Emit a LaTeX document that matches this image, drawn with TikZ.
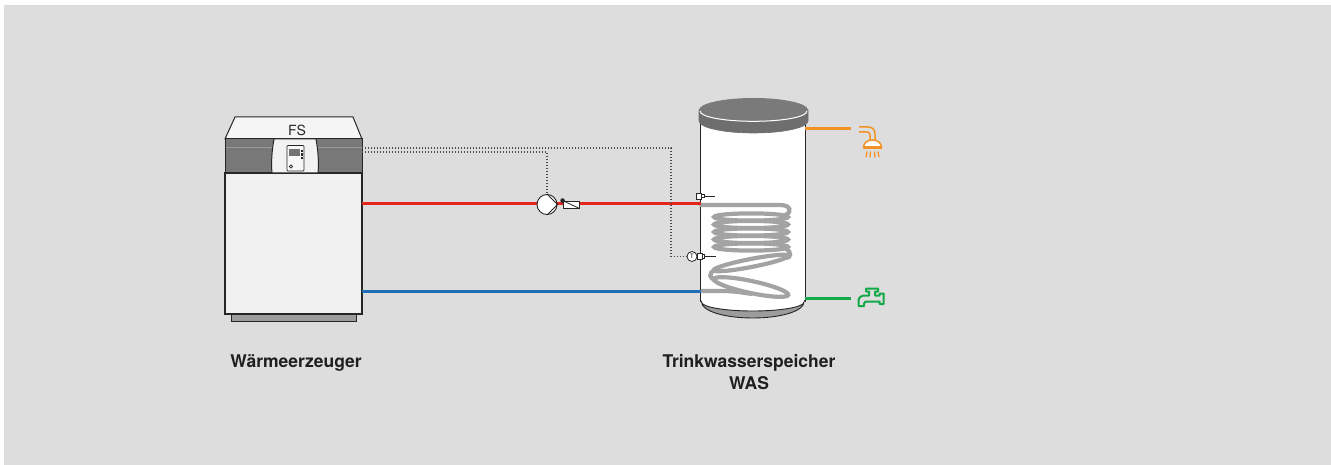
\documentclass[tikz,border=0pt]{standalone}
\usepackage{fontspec}
\setmainfont{TeX Gyre Heros}
\definecolor{bg}{HTML}{DDDDDD}
\definecolor{hotred}{HTML}{E2261C}
\definecolor{coldblue}{HTML}{1E6FB8}
\definecolor{dhworange}{HTML}{F39224}
\definecolor{dcwgreen}{HTML}{13A84A}
\definecolor{coilgray}{HTML}{A3A3A3}
\definecolor{lidgray}{HTML}{7A7A7A}
\definecolor{rimgray}{HTML}{6E6E6E}
\definecolor{bandgray}{HTML}{787878}
\definecolor{basegray}{HTML}{9C9C9C}
\definecolor{edge}{HTML}{262626}
\begin{document}
\begin{tikzpicture}[x=1pt,y=-1pt,
  pipe/.style={line width=3pt},
  ctrl/.style={draw=black!70, line width=1.1pt, dash pattern=on 1.3pt off 1.7pt},
  coil/.style={draw=coilgray, line width=4.2pt},
  outline/.style={draw=edge, line width=1pt},
  caption/.style={font=\fontsize{17.5}{21}\selectfont\bfseries, text=black!88, anchor=base, inner sep=0},
  sensorbody/.style={draw=edge, fill=white, line width=0.7pt},
]
\useasboundingbox (0,0) rectangle (1331,465);
\fill[bg] (4,5) rectangle (1331,465);

% ---------------- heat generator ----------------
\fill[black!6] (225,173) rectangle (362,314);
\draw[edge, line width=1.5pt] (225,173) rectangle (362,314);
\draw[outline, fill=basegray] (231,314) rectangle (356,321.5);
\draw[outline, fill=black!4] (235,117) -- (353,117) -- (362,139) -- (225,139) -- cycle;
\draw[outline, fill=bandgray] (225,139) rectangle (362,173);
\draw[black!40, line width=1pt] (225.5,148) -- (361.5,148);
% control panel
\draw[outline, fill=black!5] (274,139) .. controls (272,150) and (271,162) .. (272,173)
  -- (318,173) .. controls (319,162) and (318,150) .. (316,139) -- cycle;
\draw[edge, line width=0.7pt, fill=black!3, rounded corners=0.8pt] (287,145.5) rectangle (304,171);
\fill[black!55] (289,149.5) rectangle (300,156);
\fill[edge] (300.5,150) rectangle (303,152.5);
\fill[edge] (300.5,153.5) rectangle (303,156);
\fill[edge] (300.5,157) rectangle (302.5,159);
\draw[edge, line width=0.7pt] (291,166.5) circle[radius=1.6pt];
\node[font=\fontsize{14}{16}\selectfont, anchor=base, inner sep=0, text=black!85] (fs) at (297,135.5) {FS};

% ---------------- storage tank ----------------
% body with curved bottom
\fill[white] (700.5,118) -- (700.5,302)
  .. controls (700.5,307) and (724,311) .. (752.75,311)
  .. controls (781.5,311) and (805,307) .. (805,302) -- (805,118) -- cycle;
% base ring
\draw[outline, line width=0.9pt, fill=basegray]
  (701.5,302) .. controls (701.5,311) and (724.4,318) .. (752.75,318)
  .. controls (781.1,318) and (804,311) .. (804,302)
  .. controls (804,307) and (781.1,311) .. (752.75,311)
  .. controls (724.4,311) and (701.5,307) .. (701.5,302) -- cycle;
\draw[outline, line width=0.8pt] (700.5,118) -- (700.5,302);
\draw[outline, line width=0.8pt] (805,118) -- (805,302);
% lid: rim with lower edge
\draw[rimgray, line width=0.6pt, fill=rimgray]
  (699,110) -- (699,121) .. controls (699,127.6) and (723.4,133) .. (753.5,133)
  .. controls (783.6,133) and (808,127.6) .. (808,121) -- (808,110) -- cycle;
% lid: top face
\fill[lidgray]
  (699,110) .. controls (699,103.4) and (723.4,98) .. (753.5,98)
  .. controls (783.6,98) and (808,103.4) .. (808,110)
  .. controls (808,116.6) and (783.6,122) .. (753.5,122)
  .. controls (723.4,122) and (699,116.6) .. (699,110) -- cycle;
\draw[white, line width=1pt]
  (700,111) .. controls (700,117) and (724,121.3) .. (753.5,121.3)
  .. controls (783,121.3) and (807,117) .. (807,111);

% heating coil
\draw[coil, line cap=round] (701,205) -- (780,205) .. controls (791,205) and (792,212) .. (786,214.5);
\foreach \yy in {217,224.5,232,239.5,247}{
  \draw[coil] (751,\yy) ellipse[x radius=37pt, y radius=3.6pt];
}
\draw[coil] (786,249) .. controls (792,252) and (791,258) .. (786,258);
\draw[coil, rotate around={11:(751,263)}] (751,263) ellipse[x radius=38pt, y radius=4pt];
\draw[coil] (715,270) .. controls (708,273) and (709,279) .. (716,280);
\draw[coil, rotate around={-12:(751,287)}] (751,287) ellipse[x radius=38pt, y radius=6pt];
\draw[coil] (701,291) -- (722,291) .. controls (735,291) and (745,293) .. (752,294);

% sensors on the tank wall
\draw[edge, line width=0.9pt] (703,196) -- (715,196);
\draw[sensorbody] (696.5,193) rectangle (701.5,199);
\draw[sensorbody] (701.5,194.3) rectangle (704,197.7);
\draw[edge, line width=0.9pt] (703,256.5) -- (716,256.5);
\draw[sensorbody] (697,253.5) rectangle (702,259.5);
\draw[sensorbody] (702,254.8) rectangle (704.5,258.2);
\node[circle, draw=edge, fill=white, line width=0.8pt, minimum size=10pt, inner sep=0,
  font=\fontsize{6}{6}\selectfont] (tsens) at (692,256.5) {T};

% ---------------- pipework ----------------
\coordinate (genHot) at (362,204);
\coordinate (genCold) at (362,291);
\coordinate (tankHot) at (700.5,204);
\coordinate (tankCold) at (700.5,291);
\coordinate (dhwOut) at (805,129);
\coordinate (dhwEnd) at (851,129);
\coordinate (dcwIn) at (805,298.5);
\coordinate (dcwEnd) at (851,298.5);

\draw[pipe, hotred] (genHot) -- (tankHot);
\draw[pipe, coldblue] (genCold) -- (tankCold);
\draw[pipe, dhworange] (dhwOut) -- (dhwEnd);
\draw[pipe, dcwgreen] (dcwIn) -- (dcwEnd);

% pump and check valve
\node[circle, draw=edge, fill=white, line width=0.9pt, minimum size=20pt, inner sep=0] (pump) at (547,204.5) {};
\draw[edge, line width=0.9pt] (pump.north) -- (pump.east) -- (pump.south);
\node[draw=edge, fill=white, line width=0.9pt, minimum width=16pt, minimum height=7pt, inner sep=0] (valve) at (571,204.5) {};
\draw[edge, line width=0.8pt] (valve.north west) -- (valve.south east);
\fill[edge] (valve.north west) circle[radius=2.3pt];

% control lines
\coordinate (ctrlA) at (362,148);
\coordinate (ctrlB) at (362,152);
\draw[ctrl] (ctrlA) -- (671,148) -- (671,256.5) -- (tsens.west);
\draw[ctrl] (ctrlB) -- (547,152) -- (pump.north);

% ---------------- outlets ----------------
% shower head
\draw[dhworange, line width=1.5pt, line join=round]
  (859,127) -- (868,127) .. controls (872.5,127) and (875,129.5) .. (875,134) -- (875,141)
  (859,132) -- (867,132) .. controls (869,132) and (870,133) .. (870,135) -- (870,141);
\draw[dhworange, line width=1.5pt, fill=white] (863.5,148) .. controls (863.5,143) and (867,140) .. (872.5,140)
  .. controls (878,140) and (881.5,143) .. (881.5,148) -- cycle;
\fill[dhworange] (863.5,146) rectangle (881.5,149);
\draw[dhworange, line width=1.3pt]
  (867,151.5) -- (866,157) (870.5,151.5) -- (870,157.5) (874.5,151.5) -- (875,157.5) (878,151.5) -- (879,157);

% tap
\draw[dcwgreen, line width=2pt, line join=round]
  (858.5,306) -- (858.5,301) .. controls (858.5,297.5) and (861,295.5) .. (865,295.5) -- (869,295.5)
  -- (869,291.5) -- (866,291.5) -- (866,288.5) -- (878,288.5) -- (878,291.5) -- (875,291.5) -- (875,295.5)
  -- (879.5,295.5) -- (879.5,293.5) -- (883.5,293.5) -- (883.5,304) -- (879.5,304) -- (879.5,301.5)
  -- (867,301.5) .. controls (865,301.5) and (864,302.5) .. (864,304) -- (864,306) -- cycle;

% ---------------- captions ----------------
\node[caption] (capGen) at (296,367) {Wärmeerzeuger};
\node[caption] (capTank) at (749,367) {Trinkwasserspeicher};
\node[caption] (capWas) at (749,389) {WAS};
\end{tikzpicture}
\end{document}
